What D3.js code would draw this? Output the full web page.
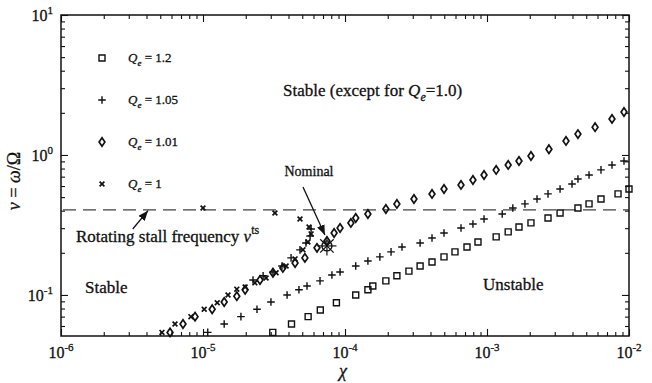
<!DOCTYPE html>
<html>
<head>
<meta charset="utf-8">
<script src="https://cdn.jsdelivr.net/npm/d3@7"></script>
<style>
  body { margin: 0; background: #fff; }
  text { font-family: "Liberation Serif", "Times New Roman", serif; fill: #111; stroke: #111; stroke-width: 0.3; }
</style>
</head>
<body>
<svg id="chart" width="652" height="383"></svg>
<script>
// ---- data ----
// Qe = 1.2 (squares)
const chiQ12 = [3.1e-5, 4.2e-5, 5.5e-5, 6.7e-5, 8.7e-5, 1.19e-4, 1.45e-4, 1.57e-4, 1.94e-4, 2.32e-4,
  2.82e-4, 3.38e-4, 4.1e-4, 4.98e-4, 5.95e-4, 7.23e-4, 8.64e-4, 1.16e-3, 1.41e-3, 1.68e-3,
  2.04e-3, 2.69e-3, 3.27e-3, 4.37e-3, 5.23e-3, 6.35e-3, 8.37e-3, 1.0e-2];
const nuQ12 = [0.054, 0.062, 0.070, 0.078, 0.088, 0.100, 0.109, 0.116, 0.126, 0.137,
  0.148, 0.161, 0.172, 0.187, 0.203, 0.220, 0.239, 0.260, 0.282, 0.306,
  0.327, 0.355, 0.385, 0.418, 0.447, 0.485, 0.527, 0.572];

// Qe = 1.05 (plus) - lower branch then the upper cluster
const chiQ105 = [1.08e-5, 1.41e-5, 1.85e-5, 2.40e-5, 3.01e-5, 3.91e-5, 4.74e-5, 5.40e-5, 6.67e-5, 8.09e-5,
  9.23e-5, 1.19e-4, 1.45e-4, 1.76e-4, 2.11e-4, 2.52e-4, 3.38e-4, 4.10e-4, 4.98e-4, 6.56e-4,
  7.96e-4, 9.53e-4, 1.28e-3, 1.52e-3, 1.85e-3, 2.25e-3, 2.69e-3, 3.27e-3, 3.97e-3, 4.37e-3,
  5.23e-3, 6.35e-3, 7.59e-3, 9.22e-3,
  2.25e-5, 2.65e-5, 3.11e-5, 3.60e-5, 4.17e-5, 4.82e-5, 5.31e-5, 5.68e-5, 5.77e-5];
const nuQ105 = [0.054, 0.062, 0.070, 0.079, 0.089, 0.100, 0.109, 0.116, 0.126, 0.139,
  0.146, 0.161, 0.175, 0.187, 0.203, 0.220, 0.235, 0.255, 0.277, 0.301,
  0.321, 0.349, 0.379, 0.418, 0.447, 0.485, 0.527, 0.572, 0.621, 0.674,
  0.720, 0.782, 0.849, 0.906,
  0.128, 0.137, 0.146, 0.161, 0.184, 0.210, 0.235, 0.264, 0.296];

// Qe = 1.01 (diamonds)
const chiQ101 = [5.86e-6, 7.23e-6, 8.79e-6, 1.16e-5, 1.41e-5, 1.73e-5, 1.98e-5, 2.52e-5, 3.11e-5, 3.65e-5,
  4.45e-5, 5.22e-5, 6.35e-5, 7.46e-5, 8.38e-5, 9.23e-5, 1.10e-4, 1.19e-4, 1.45e-4, 1.94e-4,
  2.32e-4, 3.06e-4, 4.10e-4, 4.98e-4, 6.56e-4, 7.96e-4, 9.53e-4, 1.16e-3, 1.41e-3, 1.68e-3,
  2.04e-3, 2.73e-3, 3.60e-3, 4.37e-3, 5.77e-3, 7.59e-3, 9.22e-3];
const nuQ101 = [0.054, 0.062, 0.070, 0.079, 0.089, 0.098, 0.109, 0.128, 0.144, 0.156,
  0.169, 0.184, 0.217, 0.243, 0.277, 0.301, 0.327, 0.355, 0.379, 0.411,
  0.447, 0.485, 0.527, 0.572, 0.611, 0.663, 0.720, 0.782, 0.849, 0.906,
  0.984, 1.10, 1.26, 1.41, 1.58, 1.81, 2.03];

// Qe = 1 (crosses)
const chiQ1 = [5.14e-6, 6.35e-6, 8.22e-6, 1.02e-5, 1.26e-5, 1.50e-5, 1.73e-5, 1.98e-5, 2.32e-5, 2.78e-5,
  3.27e-5, 3.85e-5, 4.45e-5, 5.06e-5, 5.48e-5, 5.77e-5, 5.58e-5, 4.82e-5, 3.21e-5, 1.0e-5];
const nuQ1 = [0.054, 0.062, 0.070, 0.079, 0.088, 0.100, 0.110, 0.114, 0.122, 0.132,
  0.144, 0.161, 0.181, 0.210, 0.239, 0.273, 0.306, 0.349, 0.385, 0.418];

const qeLabels = ["1.2", "1.05", "1.01", "1"];
const nuStall = 0.405;
const nominal = { chi: 7.46e-5, nu: 0.224 };

const xMajor = [1e-6, 1e-5, 1e-4, 1e-3, 1e-2];
const xExp = ["-6", "-5", "-4", "-3", "-2"];
const yMajor = [0.1, 1, 10];
const yExp = ["-1", "0", "1"];

// ---- layout ----
const W = 652, H = 383;
const margin = { top: 15, right: 23, bottom: 47, left: 61 };
const x = d3.scaleLog().domain([1e-6, 1e-2]).range([margin.left, W - margin.right]);
const y = d3.scaleLog().domain([0.0509, 10]).range([H - margin.bottom, margin.top]);

const svg = d3.select("#chart");

// arrow head
svg.append("defs").append("marker")
  .attr("id", "head")
  .attr("viewBox", "0 0 10 8")
  .attr("refX", 10).attr("refY", 4)
  .attr("markerWidth", 10).attr("markerHeight", 8)
  .attr("markerUnits", "userSpaceOnUse")
  .attr("orient", "auto")
  .append("path").attr("d", "M0,0L10,4L0,8Z").attr("fill", "#111");

// minor tick values
const minors = (lo, hi) => {
  const out = [];
  for (let e = lo; e < hi; e++) for (let k = 2; k <= 9; k++) out.push(k * Math.pow(10, e));
  return out;
};
const xMinor = minors(-6, -2);
const yMinor = minors(-2, 1).filter(v => v >= 0.0509 && v <= 10);

// ---- ticks (inward on all four sides) ----
const [x0, x1] = x.range();
const [yb, yt] = y.range();
function ticks(axisFn, scale, vals, size, tx, ty) {
  const g = svg.append("g")
    .attr("transform", `translate(${tx},${ty})`)
    .call(axisFn(scale).tickValues(vals).tickSize(size).tickFormat(""));
  g.select(".domain").remove();
  g.selectAll("line").attr("stroke", "#111").attr("stroke-width", 1.1);
}
ticks(d3.axisBottom, x, xMajor, -7, 0, yb);
ticks(d3.axisBottom, x, xMinor, -4, 0, yb);
ticks(d3.axisTop, x, xMajor, -7, 0, yt);
ticks(d3.axisTop, x, xMinor, -4, 0, yt);
ticks(d3.axisLeft, y, yMajor, -7, x0, 0);
ticks(d3.axisLeft, y, yMinor, -4, x0, 0);
ticks(d3.axisRight, y, yMajor, -7, x1, 0);
ticks(d3.axisRight, y, yMinor, -4, x1, 0);

// frame
svg.append("rect")
  .attr("x", x0).attr("y", yt).attr("width", x1 - x0).attr("height", yb - yt)
  .attr("fill", "none").attr("stroke", "#111").attr("stroke-width", 1.5);

// tick labels
svg.append("g").selectAll("text").data(xMajor).join("text")
  .attr("x", d => x(d)).attr("y", yb + 22)
  .attr("text-anchor", "middle").attr("font-size", 16)
  .each(function (d, i) {
    const t = d3.select(this);
    t.append("tspan").text("10");
    t.append("tspan").attr("dy", -7).attr("font-size", 11).text(xExp[i]);
  });
svg.append("g").selectAll("text").data(yMajor).join("text")
  .attr("x", x0 - 8).attr("y", d => y(d) + 6)
  .attr("text-anchor", "end").attr("font-size", 16)
  .each(function (d, i) {
    const t = d3.select(this);
    t.append("tspan").text("10");
    t.append("tspan").attr("dy", -7).attr("font-size", 11).text(yExp[i]);
  });

// axis titles
svg.append("text")
  .attr("x", (x0 + x1) / 2 - 2).attr("y", 377)
  .attr("text-anchor", "middle").attr("font-size", 18).attr("font-style", "italic")
  .text("χ");
const yl = svg.append("text")
  .attr("transform", "translate(20,181) rotate(-90)")
  .attr("text-anchor", "middle").attr("font-size", 18);
yl.append("tspan").attr("font-style", "italic").text("ν");
yl.append("tspan").text(" = ");
yl.append("tspan").attr("font-style", "italic").text("ω");
yl.append("tspan").text("/Ω");

// rotating stall frequency line
svg.append("line")
  .attr("x1", x0 + 2).attr("x2", x1)
  .attr("y1", y(nuStall)).attr("y2", y(nuStall))
  .attr("stroke", "#111").attr("stroke-width", 1)
  .attr("stroke-dasharray", "13,7");

// ---- markers ----
const shapes = {
  square: "M-3,-3H3V3H-3Z",
  plus: "M-3.8,0H3.8M0,-3.8V3.8",
  diamond: "M0,-4.2L2.9,0L0,4.2L-2.9,0Z",
  cross: "M-2.4,-2.4L2.4,2.4M-2.4,2.4L2.4,-2.4"
};
const series = [
  { chi: chiQ12, nu: nuQ12, shape: "square", sw: 1.4 },
  { chi: chiQ105, nu: nuQ105, shape: "plus", sw: 1.4 },
  { chi: chiQ101, nu: nuQ101, shape: "diamond", sw: 1.7 },
  { chi: chiQ1, nu: nuQ1, shape: "cross", sw: 1.7 }
];
series.forEach(s => {
  svg.append("g").selectAll("path")
    .data(s.chi.map((c, i) => [c, s.nu[i]]))
    .join("path")
    .attr("transform", d => `translate(${x(d[0])},${y(d[1])})`)
    .attr("d", shapes[s.shape])
    .attr("fill", "none").attr("stroke", "#111").attr("stroke-width", s.sw);
});

// nominal point
const nom = svg.append("g")
  .attr("transform", `translate(${x(nominal.chi)},${y(nominal.nu)})`);
nom.append("circle").attr("r", 5).attr("fill", "none").attr("stroke", "#111").attr("stroke-width", 1.4);
d3.range(8).forEach(k => {
  const a = k * Math.PI / 4;
  nom.append("line")
    .attr("x1", 0).attr("y1", 0)
    .attr("x2", 9.5 * Math.cos(a)).attr("y2", 9.5 * Math.sin(a))
    .attr("stroke", "#111").attr("stroke-width", 1.2);
});

// ---- legend ----
const leg = svg.append("g");
qeLabels.forEach((q, i) => {
  const ly = 58 + i * 42;
  leg.append("path")
    .attr("transform", `translate(102,${ly})`)
    .attr("d", shapes[series[i].shape])
    .attr("fill", "none").attr("stroke", "#111").attr("stroke-width", series[i].sw);
  const t = leg.append("text").attr("x", 128).attr("y", ly + 4).attr("font-size", 13);
  t.append("tspan").attr("font-style", "italic").text("Q");
  t.append("tspan").attr("font-style", "italic").attr("font-size", 9).attr("dy", 4).text("e");
  t.append("tspan").attr("dy", -4).text(" = " + q);
});

// ---- annotations ----
const a1 = svg.append("text").attr("x", 283).attr("y", 96).attr("font-size", 17);
a1.append("tspan").text("Stable (except for ");
a1.append("tspan").attr("font-style", "italic").text("Q");
a1.append("tspan").attr("font-style", "italic").attr("font-size", 12).attr("dy", 5).text("e");
a1.append("tspan").attr("dy", -5).text("=1.0)");

svg.append("text").attr("x", 85).attr("y", 293).attr("font-size", 17).text("Stable");
svg.append("text").attr("x", 483).attr("y", 290).attr("font-size", 17).text("Unstable");

const a2 = svg.append("text").attr("x", 76).attr("y", 242).attr("font-size", 17);
a2.append("tspan").text("Rotating stall frequency ");
a2.append("tspan").attr("font-style", "italic").text("ν");
a2.append("tspan").attr("font-size", 12).attr("dy", -8).text("ts");

svg.append("text").attr("x", 309).attr("y", 176).attr("text-anchor", "middle")
  .attr("font-size", 14).text("Nominal");

// arrows (data coordinates of tail -> head)
const arrows = [
  [[3.2e-6, 0.296], [4.1e-6, 0.40]],
  [[5.06e-5, 0.59], [7.22e-5, 0.268]]
];
svg.append("g").selectAll("line").data(arrows).join("line")
  .attr("x1", d => x(d[0][0])).attr("y1", d => y(d[0][1]))
  .attr("x2", d => x(d[1][0])).attr("y2", d => y(d[1][1]))
  .attr("stroke", "#111").attr("stroke-width", 1.3)
  .attr("marker-end", "url(#head)");
</script>
</body>
</html>
